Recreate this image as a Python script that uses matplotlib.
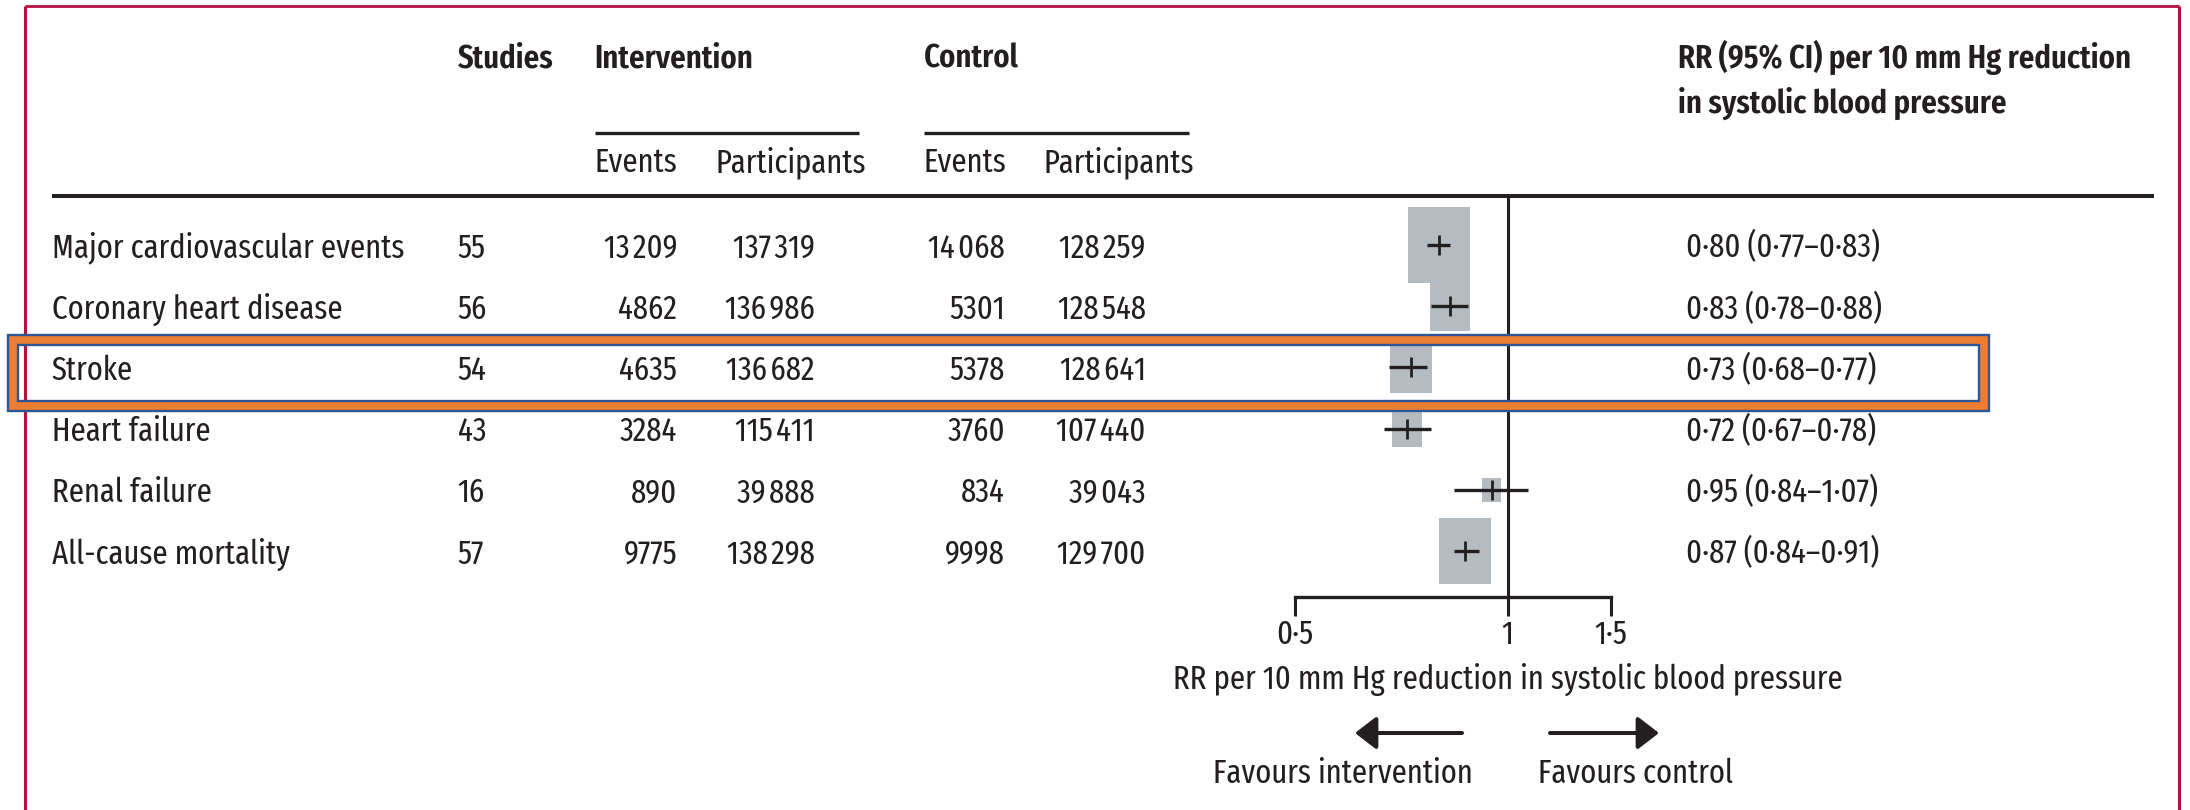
import numpy as np
import matplotlib
matplotlib.use('Agg')
import matplotlib.pyplot as plt
from matplotlib.path import Path
from matplotlib.patches import Rectangle
from matplotlib.ticker import FixedLocator, FixedFormatter, NullLocator

plt.rcParams['font.family'] = ['Fira Sans Extra Condensed', 'DejaVu Sans']

# table data
outcomes = ['Major cardiovascular events', 'Coronary heart disease', 'Stroke',
            'Heart failure', 'Renal failure', 'All-cause mortality']
studies = [55, 56, 54, 43, 16, 57]
int_events = [13209, 4862, 4635, 3284, 890, 9775]
int_participants = [137319, 136986, 136682, 115411, 39888, 138298]
ctrl_events = [14068, 5301, 5378, 3760, 834, 9998]
ctrl_participants = [128259, 128548, 128641, 107440, 39043, 129700]

# RR per 10 mm Hg reduction and 95% CI
rr = [0.80, 0.83, 0.73, 0.72, 0.95, 0.87]
ci_low = [0.77, 0.78, 0.68, 0.67, 0.84, 0.84]
ci_high = [0.83, 0.88, 0.77, 0.78, 1.07, 0.91]
# relative weight of each pooled estimate (box area)
weight = [100, 42, 46, 24, 10, 72]

tick_values = [0.5, 1, 1.4]
tick_labels = ['0·5', '1', '1·5']

INK = '#231f20'
BOX = '#b4bcc2'
CRIMSON = '#b5103c'
ORANGE = '#ed7d31'
NAVY = '#2f5597'
FS = 24


def fmt_count(n):
    # Lancet style: small space only from five digits up
    if n >= 10000:
        return f'{n:,}'.replace(',', '\u200a')
    return str(n)


def fmt_rr(v):
    return f'{v:.2f}'.replace('.', '·')


W, H = 2190, 810
fig = plt.figure(figsize=(W / 100, H / 100), dpi=100)
ax = fig.add_axes([0, 0, 1, 1])
ax.set_xlim(0, W)
ax.set_ylim(H, 0)
ax.axis('off')

row_y = 245 + 61.2 * np.arange(len(outcomes))
base_y = row_y + 12.5

# headers
hdr = dict(fontsize=FS, fontweight='semibold', color=INK, va='baseline')
ax.text(457.6, 67.7, 'Studies', ha='left', **hdr)
ax.text(594.6, 67.7, 'Intervention', ha='left', **hdr)
ax.text(923.7, 67.7, 'Control', ha='left', **hdr)
ax.text(1678, 67.7, 'RR (95% CI) per 10 mm Hg reduction', ha='left', **hdr)
ax.text(1678, 112.3, 'in systolic blood pressure', ha='left', **hdr)

ax.hlines(132.7, 594.6, 859.4, color=INK, lw=2.4)
ax.hlines(132.7, 923.7, 1188.5, color=INK, lw=2.4)

sub = dict(fontsize=FS, color=INK, va='baseline', ha='left')
ax.text(594.6, 172.3, 'Events', **sub)
ax.text(715.5, 172.3, 'Participants', **sub)
ax.text(923.7, 172.3, 'Events', **sub)
ax.text(1043, 172.3, 'Participants', **sub)

ax.hlines(195.5, 52, 2154, color=INK, lw=2.9)

# table rows
cell = dict(fontsize=FS, color=INK, va='baseline')
for i in range(len(outcomes)):
    y = base_y[i]
    ax.text(52, y, outcomes[i], ha='left', **cell)
    ax.text(457.6, y, str(studies[i]), ha='left', **cell)
    ax.text(677.3, y, fmt_count(int_events[i]), ha='right', **cell)
    ax.text(815, y, fmt_count(int_participants[i]), ha='right', **cell)
    ax.text(1004.8, y, fmt_count(ctrl_events[i]), ha='right', **cell)
    ax.text(1145.6, y, fmt_count(ctrl_participants[i]), ha='right', **cell)
    txt = f'{fmt_rr(rr[i])} ({fmt_rr(ci_low[i])}\u2013{fmt_rr(ci_high[i])})'
    ax.text(1686, y, txt, ha='left', **cell)

# forest plot on a log axis sharing the row positions
fax = ax.twiny()
fax.set_xscale('log')
k = 213 / np.log(2)
fax.set_xlim(np.exp(-1507.5 / k), np.exp((W - 1507.5) / k))
fax.set_ylim(H, 0)
fax.patch.set_visible(False)
for s in ['top', 'left', 'right']:
    fax.spines[s].set_visible(False)
fax.xaxis.set_ticks_position('bottom')
fax.xaxis.set_label_position('bottom')
fax.spines['bottom'].set_position(('data', 597))
fax.spines['bottom'].set_bounds(tick_values[0], tick_values[-1])
fax.spines['bottom'].set_linewidth(2.4)
fax.spines['bottom'].set_color(INK)
fax.xaxis.set_major_locator(FixedLocator(tick_values))
fax.xaxis.set_major_formatter(FixedFormatter(tick_labels))
fax.xaxis.set_minor_locator(NullLocator())
fax.tick_params(axis='x', which='major', direction='out', length=13.7, width=2.2,
                color=INK, pad=2, labelsize=FS, labelcolor=INK)

fax.vlines(1, 195.5, 597, color=INK, lw=2.2, zorder=1)

rect_marker = Path([(-0.4, -0.5), (0.4, -0.5), (0.4, 0.5), (-0.4, 0.5), (-0.4, -0.5)],
                   closed=True)
box_pt = 76.7 * np.sqrt(np.array(weight) / 100) * 0.72
fax.scatter(rr, row_y, s=box_pt ** 2, marker=rect_marker, color=BOX,
            linewidths=0, zorder=2)
fax.hlines(row_y, ci_low, ci_high, color=INK, lw=2.4, zorder=3)
fax.scatter(rr, row_y, marker='|', s=15.1 ** 2, color=INK, linewidths=2.0, zorder=3)

ax_title = 'RR per 10 mm Hg reduction in systolic blood pressure'
fax.text(1, 689, ax_title, ha='center', va='baseline', fontsize=FS, color=INK)

# favours arrows
arrow = dict(arrowstyle='-|>,head_length=0.65,head_width=0.5', mutation_scale=20,
             lw=2.9, color=INK, shrinkA=0, shrinkB=0)
ax.annotate('', xy=(1355, 733), xytext=(1462, 733), arrowprops=arrow)
ax.annotate('', xy=(1659, 733), xytext=(1550, 733), arrowprops=arrow)
ax.text(1343, 783, 'Favours intervention', ha='center', va='baseline', fontsize=FS, color=INK)
ax.text(1635, 783, 'Favours control', ha='center', va='baseline', fontsize=FS, color=INK)

# crimson frame
ax.vlines(25.3, 6, H, color=CRIMSON, lw=2.2)
ax.vlines(2179, 6, H, color=CRIMSON, lw=2.2)
ax.hlines(6, 25.3, 2179, color=CRIMSON, lw=2.0)

# highlight around the stroke row
for ec, lw in [(NAVY, 8.9), (ORANGE, 5.5)]:
    fig.add_artist(Rectangle((12.7, 340), 1984 - 12.7, 66, fill=False, ec=ec, lw=lw,
                             joinstyle='miter', transform=ax.transData, zorder=5))

plt.savefig('out.png', dpi=100)
